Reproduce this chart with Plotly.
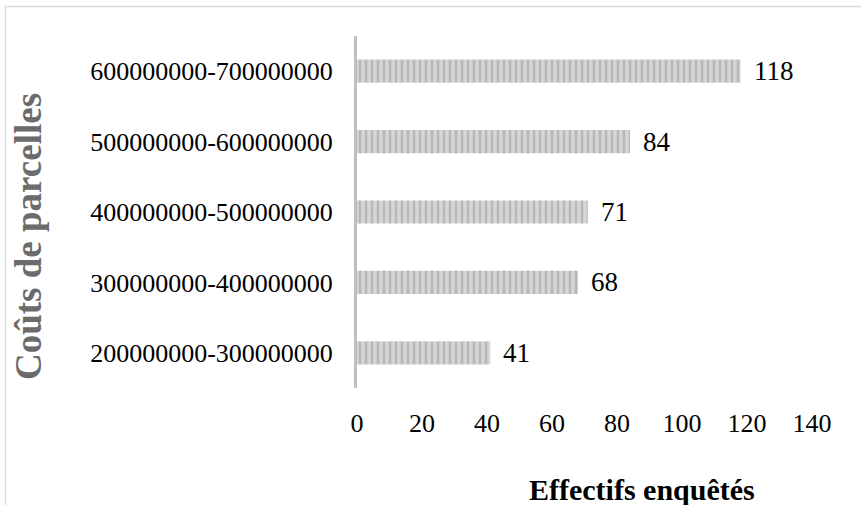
import plotly.graph_objects as go

categories = [
    "200000000-300000000",
    "300000000-400000000",
    "400000000-500000000",
    "500000000-600000000",
    "600000000-700000000",
]
values = [41, 68, 71, 84, 118]
x_ticks = [0, 20, 40, 60, 80, 100, 120, 140]

FONT = "Liberation Serif"

fig = go.Figure()
fig.add_trace(go.Bar(
    y=categories,
    x=values,
    orientation="h",
    width=0.33,
    marker=dict(
        color="#d6d6d6",
        line=dict(width=0),
        pattern=dict(shape="|", fgcolor="#999999", bgcolor="#d6d6d6", size=6, solidity=0.42),
    ),
    hoverinfo="skip",
))

for c, v in zip(categories, values):
    fig.add_annotation(
        x=v, y=c, text=str(v), showarrow=False, xanchor="left", yanchor="middle",
        xshift=11, font=dict(family=FONT, size=27, color="#000000"),
    )

L, R, T, B = 357, 49, 36, 117
W, H = 861, 505
pw, ph = W - L - R, H - T - B

fig.add_annotation(
    text="<b>Effectifs enquêtés</b>", xref="paper", yref="paper",
    x=(642 - L) / pw, y=(H - B - 489) / ph, xanchor="center", yanchor="middle",
    showarrow=False, font=dict(family=FONT, size=30, color="#000000"),
)
fig.add_annotation(
    text="<b>Coûts de parcelles</b>", xref="paper", yref="paper",
    x=(28 - L) / pw, y=(H - B - 237) / ph, xanchor="center", yanchor="middle",
    textangle=-90, showarrow=False, font=dict(family=FONT, size=37, color="#6b6b6b"),
)

# outer border
fig.add_shape(
    type="rect", xref="paper", yref="paper",
    x0=(5.5 - L) / pw, x1=(W + 10 - L) / pw,
    y0=(H - B - (H + 10)) / ph, y1=(H - B - 6.5) / ph,
    line=dict(color="#d9d9d9", width=1.5), fillcolor="rgba(0,0,0,0)", layer="below",
)

fig.update_layout(
    width=W, height=H,
    margin=dict(l=L, r=R, t=T, b=B),
    paper_bgcolor="white", plot_bgcolor="white",
    showlegend=False,
    xaxis=dict(
        range=[0, 140], tickvals=x_ticks, ticktext=[str(t) for t in x_ticks],
        showgrid=False, zeroline=False, showline=False, ticks="",
        tickfont=dict(family=FONT, size=26, color="#000000"),
        ticklabelstandoff=17, fixedrange=True,
    ),
    yaxis=dict(
        categoryorder="array", categoryarray=categories,
        showgrid=False, zeroline=False, showline=True, linecolor="#bfbfbf", linewidth=3,
        ticks="", tickfont=dict(family=FONT, size=26, color="#000000"),
        ticklabelstandoff=16, fixedrange=True,
    ),
)

fig.write_html(
    "out.html",
    config={"displayModeBar": False},
    post_script="document.body.style.margin='0';document.body.style.overflow='hidden';",
)
